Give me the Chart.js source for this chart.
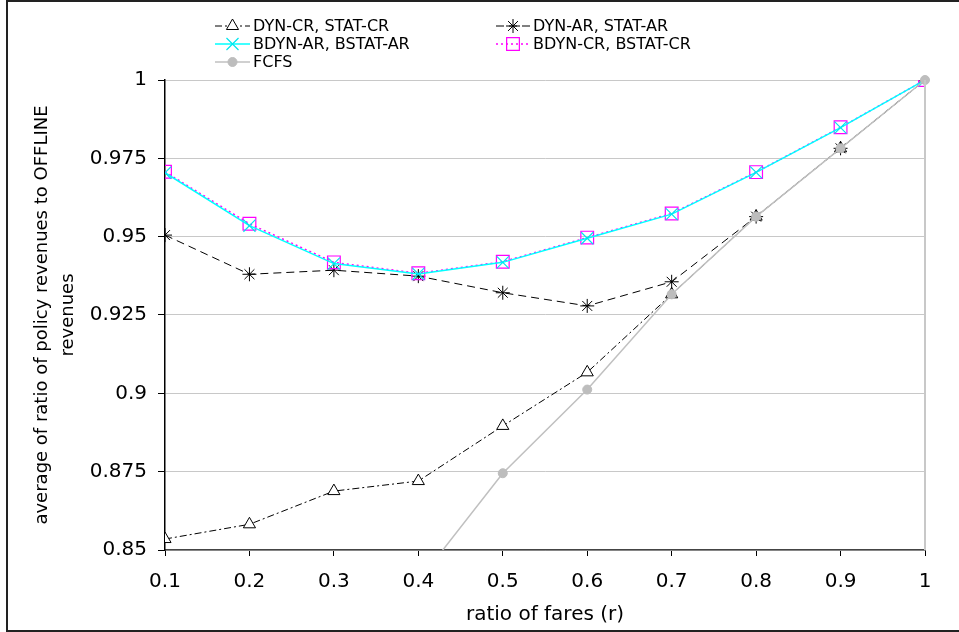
<!DOCTYPE html>
<html>
<head>
<meta charset="utf-8">
<title>ratio of fares</title>
<script src="https://cdn.jsdelivr.net/npm/chart.js@4.4.0/dist/chart.umd.min.js"></script>
<style>
    html, body { margin: 0; padding: 0; background: #ffffff; }
    #wrap { width: 959px; height: 632px; position: relative; }
</style>
</head>
<body>
<div id="wrap"><canvas id="chartFares" width="959" height="632"></canvas></div>
<script>
// Datos
const fareRatios = [0.1, 0.2, 0.3, 0.4, 0.5, 0.6, 0.7, 0.8, 0.9, 1.0];
const dynCR  = [0.8535, 0.8582, 0.8688, 0.8720, 0.8896, 0.9067, 0.9316, 0.9564, 0.9782, 1.0];
const dynAR  = [0.9505, 0.9380, 0.9393, 0.9374, 0.9321, 0.9279, 0.9356, 0.9564, 0.9782, 1.0];
const bdynAR = [0.9704, 0.9535, 0.9414, 0.9381, 0.9418, 0.9495, 0.9572, 0.9705, 0.9848, 1.0];
const bdynCR = [0.9707, 0.9541, 0.9418, 0.9383, 0.9420, 0.9497, 0.9574, 0.9706, 0.9849, 1.0];
const fcfs   = [null, null, null, 0.8400, 0.8745, 0.9012, 0.9316, 0.9564, 0.9782, 1.0];
const yTicks = [0.85, 0.875, 0.9, 0.925, 0.95, 0.975, 1];

const seriesNames = ['DYN-CR, STAT-CR', 'DYN-AR, STAT-AR', 'BDYN-AR, BSTAT-AR', 'BDYN-CR, BSTAT-CR', 'FCFS'];

const FONT = "'DejaVu Sans', sans-serif";
Chart.defaults.font.family = FONT;
Chart.defaults.color = '#000000';

function toPoints(values) {
    return fareRatios.map((r, i) => ({ x: r, y: values[i] }));
}

// Marco y línea derecha del área de gráfico
const framePlugin = {
    id: 'frame',
    beforeDraw(chart) {
        const ctx = chart.ctx;
        ctx.save();
        ctx.fillStyle = '#ffffff';
        ctx.fillRect(0, 0, chart.width, chart.height);
        ctx.restore();
    },
    afterDraw(chart) {
        const ctx = chart.ctx;
        const a = chart.chartArea;
        ctx.save();
        ctx.strokeStyle = '#c8c8c8';
        ctx.lineWidth = 2;
        ctx.beginPath();
        ctx.moveTo(a.right, a.top);
        ctx.lineTo(a.right, a.bottom);
        ctx.stroke();
        ctx.strokeStyle = '#222222';
        ctx.lineWidth = 2;
        ctx.strokeRect(7, 1, 970, 630);
        ctx.restore();
    }
};

// Títulos de ejes
const titlesPlugin = {
    id: 'axisTitles',
    afterDraw(chart) {
        const ctx = chart.ctx;
        const a = chart.chartArea;
        ctx.save();
        ctx.fillStyle = '#000000';
        ctx.textAlign = 'center';
        ctx.textBaseline = 'middle';
        ctx.font = '20px ' + FONT;
        ctx.fillText('ratio of fares (r)', (a.left + a.right) / 2, 615);
        ctx.font = '18px ' + FONT;
        const cy = (a.top + a.bottom) / 2;
        ctx.translate(42, cy);
        ctx.rotate(-Math.PI / 2);
        ctx.fillText('average of ratio of policy revenues to OFFLINE', 0, 0);
        ctx.fillText('revenues', 0, 26);
        ctx.restore();
    }
};

// Leyenda en dos columnas dibujada a mano
const legendPlugin = {
    id: 'twoColLegend',
    afterDraw(chart) {
        const ctx = chart.ctx;
        const items = [
            { ds: 4, col: 0, row: 0 },
            { ds: 3, col: 1, row: 0 },
            { ds: 1, col: 0, row: 1 },
            { ds: 2, col: 1, row: 1 },
            { ds: 0, col: 0, row: 2 }
        ];
        const cols = [{ x0: 215, x1: 250, tx: 253 }, { x0: 496, x1: 530, tx: 533 }];
        const rows = [26, 44, 62];
        items.forEach(it => {
            const d = chart.data.datasets[it.ds];
            const c = cols[it.col];
            const y = rows[it.row];
            ctx.save();
            ctx.strokeStyle = d.borderColor;
            ctx.lineWidth = d.borderWidth;
            ctx.setLineDash(d.borderDash || []);
            ctx.beginPath();
            ctx.moveTo(c.x0, y);
            ctx.lineTo(c.x1, y);
            ctx.stroke();
            ctx.setLineDash([]);
            ctx.strokeStyle = d.pointBorderColor;
            ctx.fillStyle = d.pointBackgroundColor;
            ctx.lineWidth = d.pointBorderWidth;
            Chart.helpers.drawPoint(ctx, {
                pointStyle: d.pointStyle,
                radius: d.pointRadius,
                rotation: 0,
                borderWidth: d.pointBorderWidth
            }, (c.x0 + c.x1) / 2, y);
            ctx.fillStyle = '#000000';
            ctx.font = '16px ' + FONT;
            ctx.textAlign = 'left';
            ctx.textBaseline = 'middle';
            ctx.fillText(d.label, c.tx, y + 1);
            ctx.restore();
        });
    }
};

document.addEventListener('DOMContentLoaded', function () {
    const ctxFares = document.getElementById('chartFares');
    new Chart(ctxFares, {
        type: 'line',
        data: {
            datasets: [
                {
                    label: seriesNames[4],
                    data: toPoints(fcfs),
                    borderColor: '#c0c0c0',
                    borderWidth: 1.5,
                    pointStyle: 'circle',
                    pointRadius: 4.5,
                    pointBackgroundColor: '#bdbdbd',
                    pointBorderColor: '#bdbdbd',
                    pointBorderWidth: 1,
                    clip: { left: 8, top: 8, right: 8, bottom: 0 }
                },
                {
                    label: seriesNames[2],
                    data: toPoints(bdynAR),
                    borderColor: '#00ffff',
                    borderWidth: 1.5,
                    pointStyle: 'crossRot',
                    pointRadius: 8.5,
                    pointBackgroundColor: 'rgba(0,0,0,0)',
                    pointBorderColor: '#00e5ee',
                    pointBorderWidth: 1.2
                },
                {
                    label: seriesNames[3],
                    data: toPoints(bdynCR),
                    borderColor: '#ff00ff',
                    borderWidth: 1.5,
                    borderDash: [2, 3],
                    pointStyle: 'rect',
                    pointRadius: 9,
                    pointBackgroundColor: 'rgba(0,0,0,0)',
                    pointBorderColor: '#ff00ff',
                    pointBorderWidth: 1.2
                },
                {
                    label: seriesNames[1],
                    data: toPoints(dynAR),
                    borderColor: '#000000',
                    borderWidth: 1,
                    borderDash: [8, 5],
                    pointStyle: 'star',
                    pointRadius: 7,
                    pointBackgroundColor: 'rgba(0,0,0,0)',
                    pointBorderColor: '#000000',
                    pointBorderWidth: 1
                },
                {
                    label: seriesNames[0],
                    data: toPoints(dynCR),
                    borderColor: '#000000',
                    borderWidth: 1,
                    borderDash: [7, 3, 2, 3],
                    pointStyle: 'triangle',
                    pointRadius: 7,
                    pointBackgroundColor: '#ffffff',
                    pointBorderColor: '#000000',
                    pointBorderWidth: 1
                }
            ]
        },
        options: {
            responsive: false,
            animation: false,
            layout: {
                padding: { left: 65, right: 34, top: 80, bottom: 12 }
            },
            plugins: {
                legend: { display: false },
                tooltip: { enabled: false }
            },
            scales: {
                x: {
                    type: 'linear',
                    min: 0.1,
                    max: 1,
                    afterFit: function (scale) { scale.height = 70; },
                    ticks: {
                        stepSize: 0.1,
                        padding: 14,
                        font: { size: 20 },
                        color: '#000000',
                        callback: function (value) { return String(Math.round(value * 10) / 10); }
                    },
                    grid: {
                        drawOnChartArea: false,
                        drawTicks: true,
                        tickLength: 6,
                        tickColor: '#000000'
                    },
                    border: { color: '#444444', width: 1.5 }
                },
                y: {
                    type: 'linear',
                    min: yTicks[0],
                    max: yTicks[yTicks.length - 1],
                    afterFit: function (scale) { scale.width = 100; },
                    afterBuildTicks: function (scale) {
                        scale.ticks = yTicks.map(v => ({ value: v }));
                    },
                    ticks: {
                        padding: 11,
                        font: { size: 20 },
                        color: '#000000',
                        callback: function (value) { return String(Math.round(value * 1000) / 1000); }
                    },
                    grid: {
                        color: '#c8c8c8',
                        lineWidth: 1,
                        tickLength: 7,
                        tickColor: '#000000'
                    },
                    border: { color: '#000000', width: 1.5 }
                }
            }
        },
        plugins: [framePlugin, titlesPlugin, legendPlugin]
    });
});
</script>
</body>
</html>
